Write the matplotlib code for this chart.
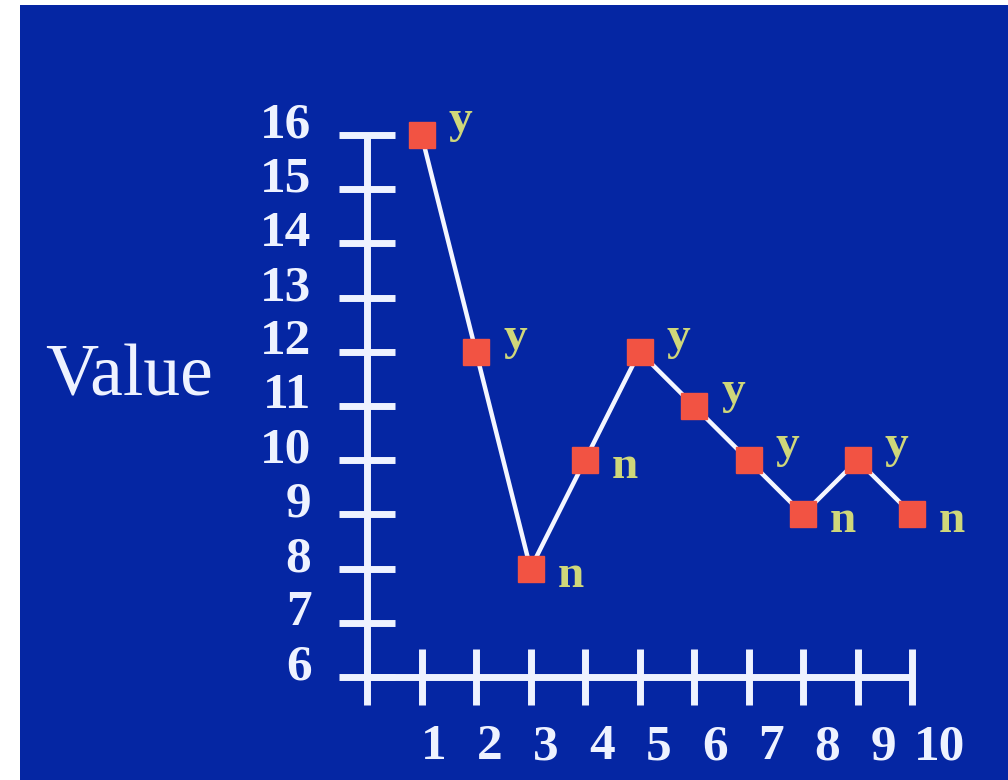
import matplotlib
matplotlib.use("Agg")
import matplotlib.pyplot as plt
from matplotlib.patches import Rectangle
from matplotlib.transforms import ScaledTranslation

# Data
x_vals = [1, 2, 3, 4, 5, 6, 7, 8, 9, 10]
y_vals = [16, 12, 8, 10, 12, 11, 10, 9, 10, 9]
flags = ["y", "y", "n", "n", "y", "y", "y", "n", "y", "n"]
x_ticks = list(range(0, 11))
x_ticklabels = [""] + [str(i) for i in range(1, 11)]
y_ticks = list(range(6, 17))
y_ticklabels = [str(i) for i in range(6, 17)]
ylabel_text = "Value"

BG = "#0526a3"
FG = "#eef2ff"
MARK = "#f25343"
FLAG = "#cfd77a"
SERIF = ["Liberation Serif", "DejaVu Serif"]

W, H = 1008, 780
fig = plt.figure(figsize=(W / 100, H / 100), dpi=100, facecolor="white")
fig.patches.append(Rectangle((20 / W, 0), 1 - 20 / W, 775 / H, transform=fig.transFigure,
                             facecolor=BG, edgecolor="none", zorder=-10))

x0, x1 = 367, 912
ytop, ybot = 135, 677
ax = fig.add_axes([x0 / W, 1 - ybot / H, (x1 - x0) / W, (ybot - ytop) / H])
ax.set_zorder(5)
ax.set_facecolor("none")
ax.set_xlim(0, 10)
ax.set_ylim(6, 16)

for s in ["top", "right"]:
    ax.spines[s].set_visible(False)
for s in ["left", "bottom"]:
    ax.spines[s].set_color(FG)
    ax.spines[s].set_linewidth(5)
    ax.spines[s].set_capstyle("butt")
ax.spines["left"].set_bounds(6, 16)
ax.spines["bottom"].set_bounds(0, 10)

ax.set_xticks(x_ticks)
ax.set_xticklabels(x_ticklabels)
ax.set_yticks(y_ticks)
ax.set_yticklabels(y_ticklabels)
ax.tick_params(axis="both", direction="inout", length=40, width=5, color=FG,
               labelcolor=FG)
ax.tick_params(axis="y", pad=20)
ax.tick_params(axis="x", pad=14)

for lab in ax.get_yticklabels():
    lab.set_fontfamily(SERIF)
    lab.set_fontweight("bold")
    lab.set_fontsize(37)
    lab.set_transform(lab.get_transform() + ScaledTranslation(0, 15 / 100, fig.dpi_scale_trans))

for i, lab in enumerate(ax.get_xticklabels()):
    lab.set_fontfamily(SERIF)
    lab.set_fontweight("bold")
    lab.set_fontsize(37)
    dx = (10 + 1.8 * i) / 100
    lab.set_transform(lab.get_transform() + ScaledTranslation(dx, 0, fig.dpi_scale_trans))

ax.plot(x_vals, y_vals, color="#f4f6ff", linewidth=3.2, zorder=3, clip_on=False)
ax.plot(x_vals, y_vals, linestyle="none", marker="s", markersize=19,
        markerfacecolor=MARK, markeredgecolor=MARK, zorder=4, clip_on=False)

for xv, yv, f in zip(x_vals, y_vals, flags):
    dy = 3 if f == "y" else -18
    ax.annotate(f, (xv, yv), xytext=(27 * 0.72, dy * 0.72), textcoords="offset points",
                ha="left", va="baseline", color=FLAG, fontsize=34, fontweight="bold",
                family=SERIF, zorder=5, annotation_clip=False)

fig.text(45 / W, 1 - 395 / H, ylabel_text, ha="left", va="baseline", color=FG,
         fontsize=53, family=SERIF, zorder=6)

fig.savefig("out.png", dpi=100, facecolor="white")
